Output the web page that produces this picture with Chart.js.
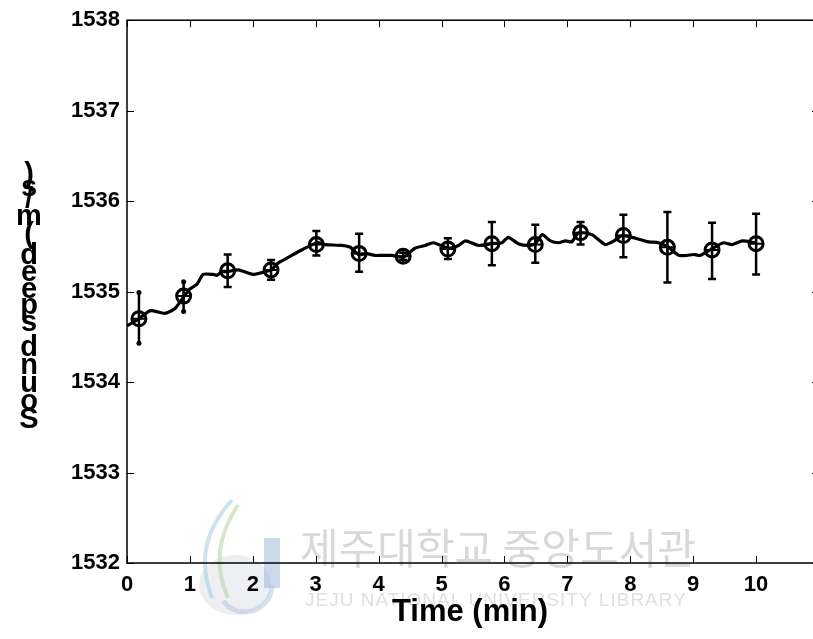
<!DOCTYPE html>
<html>
<head>
<meta charset="utf-8">
<script src="https://cdn.jsdelivr.net/npm/chart.js@4.4.1/dist/chart.umd.min.js"></script>
<style>
  html, body { margin: 0; padding: 0; background: #fff; overflow: hidden; }
  #wrap { width: 830px; height: 639px; }
</style>
</head>
<body>
<div id="wrap"><canvas id="chart" width="830" height="639"></canvas></div>
<script>
// sound speed trace
const lineX = [0, 0.19, 0.37, 0.60, 0.76, 0.90, 1.00, 1.11, 1.21, 1.37, 1.43, 1.51, 1.59, 1.77, 2.01, 2.14, 2.29, 2.41, 2.57, 2.72,
  3.02, 3.15, 3.41, 3.55, 3.68, 3.81, 3.94, 4.05, 4.21, 4.39, 4.58, 4.74, 4.87, 5.11, 5.27, 5.38, 5.59, 5.79, 5.96, 6.06,
  6.22, 6.38, 6.49, 6.60, 6.73, 6.86, 6.97, 7.07, 7.18, 7.39, 7.60, 7.74, 7.87, 8.08, 8.29, 8.45, 8.61, 8.77, 8.90, 9.01,
  9.11, 9.29, 9.48, 9.62, 9.78, 9.99];
const lineY = [1534.62, 1534.70, 1534.79, 1534.76, 1534.81, 1534.94, 1535.03, 1535.08, 1535.19, 1535.19, 1535.18, 1535.22, 1535.22, 1535.24, 1535.19, 1535.21, 1535.24, 1535.32, 1535.38, 1535.44,
  1535.54, 1535.52, 1535.51, 1535.49, 1535.41, 1535.42, 1535.40, 1535.40, 1535.40, 1535.38, 1535.48, 1535.51, 1535.54, 1535.48, 1535.51, 1535.56, 1535.51, 1535.53, 1535.54, 1535.60,
  1535.53, 1535.51, 1535.53, 1535.63, 1535.56, 1535.54, 1535.56, 1535.55, 1535.65, 1535.63, 1535.52, 1535.56, 1535.62, 1535.59, 1535.55, 1535.54, 1535.49, 1535.40, 1535.40, 1535.41,
  1535.40, 1535.47, 1535.54, 1535.52, 1535.56, 1535.54];

// averaged points with error bars
const markX = [0.19, 0.90, 1.60, 2.29, 3.01, 3.69, 4.39, 5.10, 5.80, 6.49, 7.21, 7.89, 8.59, 9.30, 10.0];
const markY = [1534.70, 1534.95, 1535.23, 1535.24, 1535.52, 1535.42, 1535.39, 1535.47, 1535.53, 1535.52, 1535.65, 1535.62, 1535.49, 1535.46, 1535.53];
const errHi = [1534.99, 1535.11, 1535.41, 1535.35, 1535.67, 1535.64, 1535.43, 1535.59, 1535.77, 1535.74, 1535.77, 1535.85, 1535.88, 1535.76, 1535.86];
const errLo = [1534.43, 1534.78, 1535.05, 1535.13, 1535.40, 1535.22, 1535.35, 1535.36, 1535.29, 1535.32, 1535.52, 1535.38, 1535.10, 1535.14, 1535.19];

const xTicks = [0, 1, 2, 3, 4, 5, 6, 7, 8, 9, 10];
const yTicks = [1532, 1533, 1534, 1535, 1536, 1537, 1538];
const xTitle = 'Time (min)';
const yTitle = 'Sound speed (m/s)';
const markTitle = '제주대학교 중앙도서관';
const markSub = 'JEJU NATIONAL UNIVERSITY LIBRARY';

const FONT = '"Liberation Sans", Arial, sans-serif';

const watermark = {
  id: 'watermark',
  beforeDraw(chart) {
    const ctx = chart.ctx;
    ctx.save();
    // faint logo
    ctx.fillStyle = 'rgba(235,237,242,0.9)';
    ctx.beginPath();
    ctx.ellipse(235, 585, 36, 30, 0, 0, Math.PI * 2);
    ctx.fill();
    ctx.fillStyle = 'rgba(150,180,215,0.5)';
    ctx.fillRect(264, 538, 16, 50);
    ctx.lineWidth = 5;
    ctx.strokeStyle = 'rgba(175,195,220,0.5)';
    ctx.beginPath();
    ctx.arc(245, 585, 27, 0, Math.PI * 0.8);
    ctx.stroke();
    ctx.lineWidth = 4;
    ctx.strokeStyle = 'rgba(160,205,225,0.55)';
    ctx.beginPath();
    ctx.moveTo(232, 500); ctx.bezierCurveTo(205, 530, 198, 560, 212, 598); ctx.stroke();
    ctx.strokeStyle = 'rgba(190,215,170,0.6)';
    ctx.beginPath();
    ctx.moveTo(238, 505); ctx.bezierCurveTo(218, 535, 213, 565, 228, 598); ctx.stroke();
    // text
    ctx.fillStyle = '#d8d8d8';
    ctx.textAlign = 'left';
    ctx.textBaseline = 'alphabetic';
    ctx.font = '42px "Noto Sans CJK KR"';
    ctx.fillText(markTitle, 300, 564);
    ctx.fillStyle = '#e0e0e0';
    ctx.font = '19px ' + FONT;
    ctx.letterSpacing = '1px';
    ctx.fillText(markSub, 305, 606);
    ctx.restore();
  }
};

const frame = {
  id: 'frame',
  afterDatasetsDraw(chart) {
    const ctx = chart.ctx;
    const a = chart.chartArea;
    const xs = chart.scales.x, ys = chart.scales.y;
    ctx.save();
    // error bars
    ctx.strokeStyle = '#000';
    ctx.fillStyle = '#000';
    ctx.lineWidth = 2.5;
    markX.forEach((v, i) => {
      const px = xs.getPixelForValue(v);
      const top = ys.getPixelForValue(errHi[i]);
      const bot = ys.getPixelForValue(errLo[i]);
      ctx.beginPath();
      ctx.moveTo(px, top); ctx.lineTo(px, bot);
      if (i >= 2) {
        ctx.moveTo(px - 4, top); ctx.lineTo(px + 4, top);
        ctx.moveTo(px - 4, bot); ctx.lineTo(px + 4, bot);
      }
      ctx.stroke();
      if (i < 2) {
        [top, bot].forEach(p => { ctx.beginPath(); ctx.arc(px, p, 2.5, 0, Math.PI * 2); ctx.fill(); });
      }
    });
    // box
    ctx.lineWidth = 1.5;
    ctx.strokeRect(a.left, a.top, a.right - a.left, a.bottom - a.top);
    // inward ticks
    ctx.lineWidth = 1;
    xTicks.forEach(v => {
      const px = Math.round(xs.getPixelForValue(v)) + 0.5;
      ctx.beginPath();
      ctx.moveTo(px, a.bottom); ctx.lineTo(px, a.bottom - 7);
      ctx.moveTo(px, a.top); ctx.lineTo(px, a.top + 7);
      ctx.stroke();
    });
    yTicks.forEach(v => {
      const py = Math.round(ys.getPixelForValue(v)) + 0.5;
      ctx.beginPath();
      ctx.moveTo(a.left, py); ctx.lineTo(a.left + 7, py);
      ctx.moveTo(a.right, py); ctx.lineTo(a.right - 7, py);
      ctx.stroke();
    });
    // x title
    ctx.fillStyle = '#000';
    ctx.font = 'bold 31px ' + FONT;
    ctx.textAlign = 'center';
    ctx.textBaseline = 'middle';
    ctx.fillText(xTitle, 470, 612);
    // y title: glyphs upright, laid out along the vertical
    ctx.font = 'bold 29px ' + FONT;
    const total = ctx.measureText(yTitle).width;
    let y = 300 + total / 2;
    for (const ch of yTitle) {
      const w = ctx.measureText(ch).width;
      if (ch !== ' ') ctx.fillText(ch, 29, y - w / 2);
      y -= w;
    }
    ctx.restore();
  }
};

new Chart(document.getElementById('chart'), {
  type: 'scatter',
  data: {
    datasets: [
      {
        data: lineX.map((x, i) => ({ x: x, y: lineY[i] })),
        showLine: true,
        borderColor: '#000',
        borderWidth: 3.2,
        pointRadius: 0,
        tension: 0.2
      },
      {
        data: markX.map((x, i) => ({ x: x, y: markY[i] })),
        showLine: false,
        pointStyle: 'circle',
        pointRadius: 7,
        borderColor: '#000',
        borderWidth: 3,
        backgroundColor: 'rgba(0,0,0,0)'
      },
      {
        data: markX.map((x, i) => ({ x: x, y: markY[i] })),
        showLine: false,
        pointStyle: 'cross',
        pointRadius: 7,
        borderColor: '#000',
        borderWidth: 2
      }
    ]
  },
  options: {
    responsive: false,
    animation: false,
    devicePixelRatio: 1,
    layout: { padding: { top: 18, right: 11, left: 0, bottom: 0 } },
    plugins: { legend: { display: false }, tooltip: { enabled: false } },
    scales: {
      x: {
        type: 'linear', min: 0, max: 11,
        afterFit: s => { s.height = 76; },
        afterBuildTicks: s => { s.ticks = xTicks.concat([11]).map(v => ({ value: v })); },
        grid: { display: false, drawTicks: false },
        border: { display: false },
        ticks: {
          padding: 9, maxRotation: 0, color: '#000',
          font: { family: FONT, size: 22, weight: 'bold' },
          callback: v => (v > 10 ? '' : v)
        }
      },
      y: {
        type: 'linear', min: 1532, max: 1538,
        afterFit: s => { s.width = 127; },
        afterBuildTicks: s => { s.ticks = yTicks.map(v => ({ value: v })); },
        grid: { display: false, drawTicks: false },
        border: { display: false },
        ticks: {
          padding: 7, color: '#000',
          font: { family: FONT, size: 22, weight: 'bold' },
          callback: v => v
        }
      }
    }
  },
  plugins: [watermark, frame]
});
</script>
</body>
</html>
